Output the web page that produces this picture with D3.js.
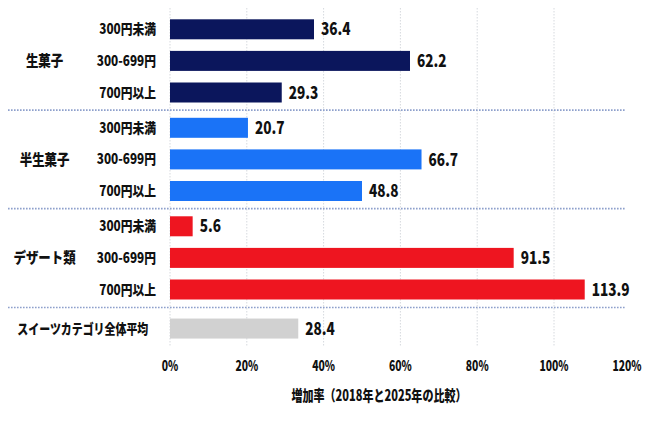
<!DOCTYPE html>
<html><head><meta charset="utf-8">
<script src="https://cdn.jsdelivr.net/npm/d3@7/dist/d3.min.js"></script>
<style>body{margin:0;background:#fff}svg{display:block}text{font-family:"Noto Sans CJK JP","Noto Sans",sans-serif;font-weight:900;fill:#111}</style>
</head><body><svg id="chart" width="650" height="434"></svg>
<script>
// ---- data ----
const groups = ["生菓子", "半生菓子", "デザート類"];
const priceBands = ["300円未満", "300-699円", "700円以上"];
const namaBarValues = [37.5, 62.5, 29.1];
const hannamaBarValues = [20.3, 65.5, 50.0];
const dessertBarValues = [5.9, 89.5, 108.0];
const namaLabels = ["36.4", "62.2", "29.3"];
const hannamaLabels = ["20.7", "66.7", "48.8"];
const dessertLabels = ["5.6", "91.5", "113.9"];
const averageName = "スイーツカテゴリ全体平均";
const averageBarValue = 33.4;
const averageLabel = "28.4";
const groupColors = ["#0b165c", "#1a73f7", "#ee1520"];
const averageColor = "#d1d1d1";
const xTicks = [0, 20, 40, 60, 80, 100, 120];
const xTitle = "増加率（2018年と2025年の比較）";

// ---- layout ----
const svg = d3.select("#chart");
const x = d3.scaleLinear().domain([0, 100]).range([170, 554]);
const y = d3.scaleLinear().domain([0, 1]).range([29.3, 60.9]);
const groupStep = 3.117, avgSlot = 9.47, barH = 20;

const barValues = [namaBarValues, hannamaBarValues, dessertBarValues];
const barLabels = [namaLabels, hannamaLabels, dessertLabels];
const rows = [];
groups.forEach((g, gi) => priceBands.forEach((p, pi) => rows.push({
  group: g, gi, band: p, value: barValues[gi][pi], label: barLabels[gi][pi],
  slot: gi * groupStep + pi, color: groupColors[gi]
})));
rows.push({ group: averageName, gi: 3, band: null, value: averageBarValue, label: averageLabel, slot: avgSlot, color: averageColor });

function fitTo(sel, wFn) {
  sel.each(function (d, i) { this.setAttribute("textLength", wFn(d, i, this)); this.setAttribute("lengthAdjust", "spacingAndGlyphs"); });
}
const squeeze = (sel, k) => fitTo(sel, (d, i, el) => el.getComputedTextLength() * k);

// grid
svg.append("g").selectAll("line").data(xTicks.filter(t => t <= 100)).join("line")
  .attr("x1", d => x(d)).attr("x2", d => x(d)).attr("y1", 8).attr("y2", 347)
  .attr("stroke", "#d6d9de").attr("stroke-width", 1).attr("stroke-dasharray", "1.5,1.5");

// separators
const seps = [2 + (groupStep - 2) / 2, groupStep + 2 + (groupStep - 2) / 2, 2 * groupStep + 2 + (avgSlot - 2 * groupStep - 2) / 2 - 0.05];
svg.append("g").selectAll("line").data(seps).join("line")
  .attr("x1", 8).attr("x2", 626).attr("y1", d => y(d)).attr("y2", d => y(d))
  .attr("stroke", "#8ea0cc").attr("stroke-width", 1.6).attr("stroke-dasharray", "1.6,1.4");

// bars
svg.append("g").selectAll("rect").data(rows).join("rect")
  .attr("x", x(0)).attr("y", d => y(d.slot) - barH / 2)
  .attr("width", d => x(d.value) - x(0)).attr("height", barH).attr("fill", d => d.color);

// value labels
svg.append("g").selectAll("text").data(rows).join("text")
  .attr("x", d => x(d.value) + 7).attr("y", d => y(d.slot)).attr("dy", "0.36em")
  .attr("font-size", 17).text(d => d.label).call(squeeze, 0.8);

// band labels
svg.append("g").selectAll("text").data(rows.filter(d => d.band)).join("text")
  .attr("x", 156).attr("y", d => y(d.slot)).attr("dy", "0.36em").attr("text-anchor", "end")
  .attr("font-size", 14).text(d => d.band).call(squeeze, 0.84);

// group labels
svg.append("g").selectAll("text").data(groups).join("text")
  .attr("x", 44.6).attr("y", (d, i) => y(i * groupStep + 1)).attr("dy", "0.36em").attr("text-anchor", "middle")
  .attr("font-size", 15).text(d => d).call(squeeze, 0.83);
svg.append("text").attr("x", 17.3).attr("y", y(avgSlot)).attr("dy", "0.36em")
  .attr("font-size", 14).text(averageName).call(fitTo, () => 131);

// x axis ticks
const tickX = d => Math.min(x(d), 627);
svg.append("g").selectAll("text").data(xTicks).join("text")
  .attr("x", tickX).attr("y", 366).attr("dy", "0.36em").attr("text-anchor", "middle")
  .attr("font-size", 14).text(d => d + "%").call(squeeze, 0.74);

// title
svg.append("text").attr("x", 379).attr("y", 396).attr("dy", "0.36em").attr("text-anchor", "middle")
  .attr("font-size", 15).text(xTitle).call(fitTo, () => 175);
</script></body></html>
